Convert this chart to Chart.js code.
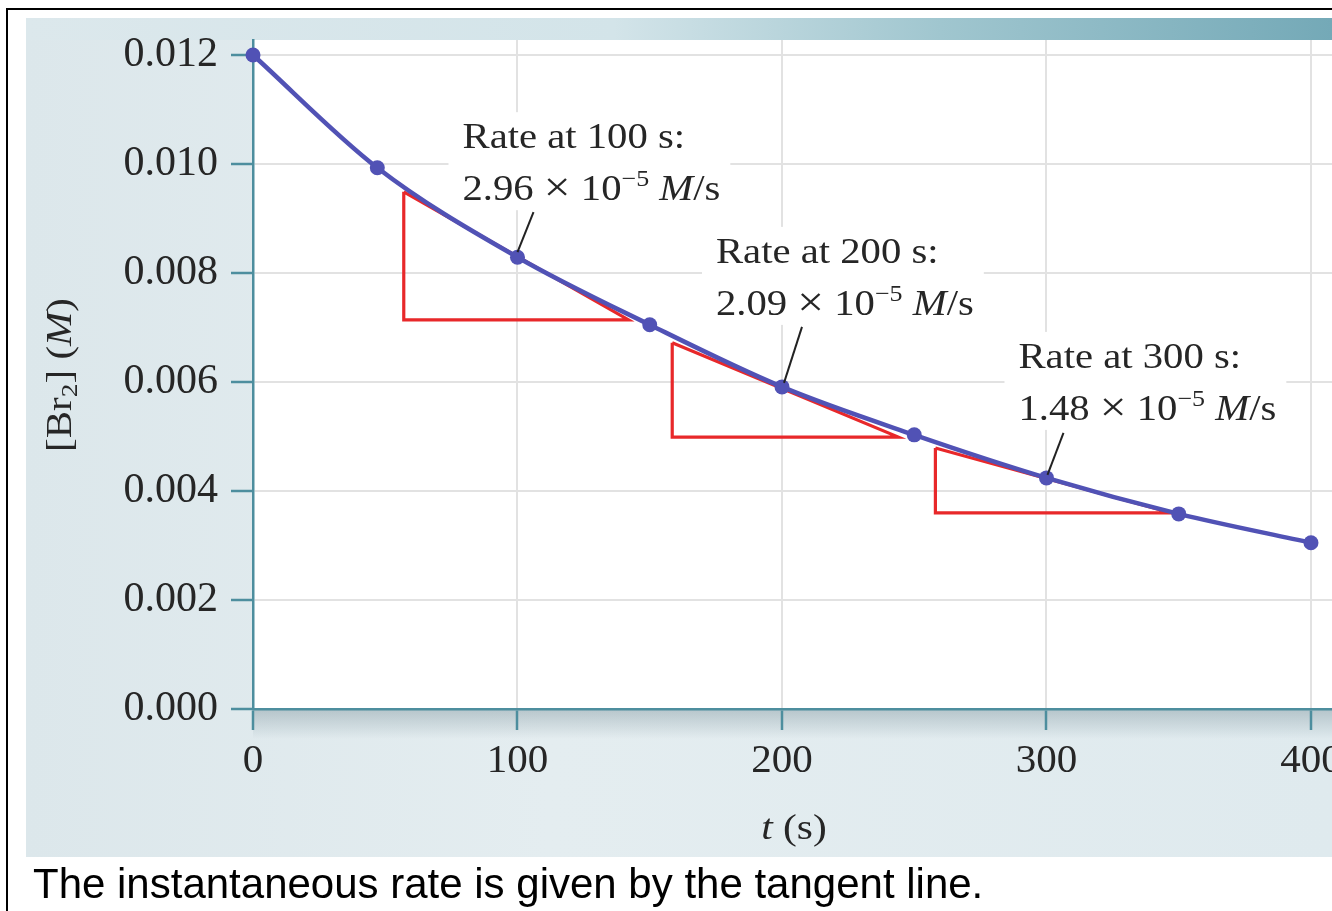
<!DOCTYPE html>
<html><head><meta charset="utf-8">
<script src="https://cdn.jsdelivr.net/npm/chart.js@4.4.1/dist/chart.umd.min.js"></script>
<style>
html,body{margin:0;padding:0;overflow:hidden;background:#fff;width:1332px;height:911px}
#wrap{position:absolute;left:0;top:0;width:1360px;height:911px}
</style>
</head><body>
<div id="wrap"><canvas id="c" width="1360" height="911"></canvas></div>
<script>
// ---- data ----
const times   = [0, 47, 100, 150, 200, 250, 300, 350, 400];
const concBr2 = [0.0120, 0.00993, 0.00829, 0.00705, 0.00591, 0.00503, 0.00424, 0.00358, 0.00305];
const xTickValues = [0, 100, 200, 300, 400];
const yTickValues = [0.000, 0.002, 0.004, 0.006, 0.008, 0.010, 0.012];
// tangent triangles (time, concentration) : top of vertical leg, corner, end of horizontal leg, back to top
const tan100Time = [57, 57, 142, 57];
const tan100Conc = [0.00949, 0.00714, 0.00714, 0.00949];
const tan200Time = [158.5, 158.5, 244, 158.5];
const tan200Conc = [0.00672, 0.00499, 0.00499, 0.00672];
const tan300Time = [258, 258, 347, 258];
const tan300Conc = [0.00479, 0.00360, 0.00360, 0.00479];
const rateTimes  = [100, 200, 300];
const rateValues = ['2.96', '2.09', '1.48'];
const captionText = 'The instantaneous rate is given by the tangent line.';

const SERIF = "'Liberation Serif','Times New Roman',serif";
const TEXT = '#262626';
const TEAL = '#4d8e9e';
const pts = (xs, ys) => xs.map((x, i) => ({x, y: ys[i]}));

function runsWidth(ctx, runs){
  let w = 0;
  for (const r of runs){ ctx.font = r.font; w += ctx.measureText(r.text).width; }
  return w;
}
function drawRuns(ctx, x, y, runs, sx){
  ctx.save(); ctx.translate(x, y); ctx.scale(sx, 1);
  let cx = 0;
  for (const r of runs){ ctx.font = r.font; ctx.fillText(r.text, cx, r.dy || 0); cx += ctx.measureText(r.text).width; }
  ctx.restore();
  return cx * sx;
}

const bgPlugin = {
  id: 'bg',
  beforeDraw(chart){
    const ctx = chart.ctx, a = chart.chartArea;
    ctx.save();
    ctx.fillStyle = '#fff'; ctx.fillRect(0, 0, chart.width, chart.height);
    const pg = ctx.createLinearGradient(26, 0, 1332, 0);
    pg.addColorStop(0, '#dce7eb'); pg.addColorStop(0.4, '#e4edf0'); pg.addColorStop(1, '#dfeaee');
    ctx.fillStyle = pg; ctx.fillRect(26, 18, 1340, 839);
    const sg = ctx.createLinearGradient(26, 0, 1332, 0);
    sg.addColorStop(0, '#dce8ec'); sg.addColorStop(0.45, '#d3e4e9'); sg.addColorStop(0.7, '#a0c6cf'); sg.addColorStop(1, '#74a9b7');
    ctx.fillStyle = sg; ctx.fillRect(26, 18, 1340, a.top - 18);
    ctx.fillStyle = '#fff'; ctx.fillRect(a.left, a.top, a.right - a.left, a.bottom - a.top);
    const sh = ctx.createLinearGradient(0, a.bottom, 0, a.bottom + 30);
    sh.addColorStop(0, 'rgba(100,125,135,0.35)'); sh.addColorStop(1, 'rgba(100,125,135,0)');
    ctx.fillStyle = sh; ctx.fillRect(a.left, a.bottom, a.right - a.left, 30);
    ctx.fillStyle = '#000'; ctx.fillRect(6, 8, 1360, 2); ctx.fillRect(6, 8, 2, 911);
    ctx.restore();
  }
};

const annotOffsets = [
  {tx: -55, ty: -57, sx1: 16, sy1: -45, ex: 0, ey: -5},
  {tx: -66, ty: -72, sx1: 20, sy1: -60, ex: 2, ey: -4},
  {tx: -28, ty: -58, sx1: 17, sy1: -45, ex: 1, ey: -3}
];
const ANN_SX = 1.13;
const AF = '36px ' + SERIF;
function line1Runs(i){ return [{text: 'Rate at ' + rateTimes[i] + ' s:', font: AF}]; }
function line2Runs(i){
  return [
    {text: rateValues[i] + ' ', font: AF},
    {text: '\u00d7', font: '42px ' + SERIF, dy: 1},
    {text: ' 10', font: AF},
    {text: '\u22125', font: '23px ' + SERIF, dy: -14},
    {text: ' ', font: AF},
    {text: 'M', font: 'italic ' + AF},
    {text: '/s', font: AF}
  ];
}
function annotGeom(chart, i){
  const xs = chart.scales.x, ys = chart.scales.y;
  const idx = times.indexOf(rateTimes[i]);
  const px = xs.getPixelForValue(rateTimes[i]), py = ys.getPixelForValue(concBr2[idx]);
  const o = annotOffsets[i];
  return {px, py, o, left: px + o.tx, base2: py + o.ty, base1: py + o.ty - 52};
}
const annotPlugin = {
  id: 'annot',
  beforeDatasetsDraw(chart){
    const ctx = chart.ctx;
    ctx.save();
    for (let i = 0; i < rateTimes.length; i++){
      const g = annotGeom(chart, i);
      const w = Math.max(runsWidth(ctx, line1Runs(i)), runsWidth(ctx, line2Runs(i))) * ANN_SX;
      ctx.fillStyle = '#fff';
      ctx.fillRect(g.left - 14, g.base1 - 36, w + 24, g.base2 - g.base1 + 46);
    }
    ctx.restore();
  },
  afterDatasetsDraw(chart){
    const ctx = chart.ctx;
    ctx.save();
    ctx.fillStyle = TEXT; ctx.textBaseline = 'alphabetic'; ctx.textAlign = 'left';
    for (let i = 0; i < rateTimes.length; i++){
      const g = annotGeom(chart, i);
      drawRuns(ctx, g.left, g.base1, line1Runs(i), ANN_SX);
      drawRuns(ctx, g.left, g.base2, line2Runs(i), ANN_SX);
      ctx.strokeStyle = '#222'; ctx.lineWidth = 2;
      ctx.beginPath();
      ctx.moveTo(g.px + g.o.sx1, g.py + g.o.sy1);
      ctx.lineTo(g.px + g.o.ex, g.py + g.o.ey);
      ctx.stroke();
    }
    ctx.restore();
  },
  afterDraw(chart){
    const ctx = chart.ctx;
    ctx.save();
    ctx.fillStyle = TEXT; ctx.textBaseline = 'alphabetic'; ctx.textAlign = 'left';
    // y title
    const yRuns = [
      {text: '[Br', font: '36px ' + SERIF},
      {text: '2', font: '24px ' + SERIF, dy: 6},
      {text: '] (', font: '36px ' + SERIF},
      {text: 'M', font: 'italic 36px ' + SERIF},
      {text: ')', font: '36px ' + SERIF}
    ];
    const ysx = 1.14;
    const yw = runsWidth(ctx, yRuns) * ysx;
    ctx.save(); ctx.translate(71, 375); ctx.rotate(-Math.PI / 2);
    drawRuns(ctx, -yw / 2, 0, yRuns, ysx);
    ctx.restore();
    // x title
    const xRuns = [
      {text: 't', font: 'italic 36px ' + SERIF},
      {text: ' (s)', font: '36px ' + SERIF}
    ];
    const xsx = 1.15;
    const xw = runsWidth(ctx, xRuns) * xsx;
    drawRuns(ctx, 794 - xw / 2, 839, xRuns, xsx);
    // caption
    ctx.fillStyle = '#000';
    ctx.font = "42px 'Liberation Sans', Arial, sans-serif";
    ctx.fillText(captionText, 33, 898);
    ctx.restore();
  }
};

const triStyle = {borderColor: '#e8282a', borderWidth: 3.2, pointRadius: 0, tension: 0, fill: false, order: 2, clip: false};

new Chart(document.getElementById('c'), {
  type: 'line',
  data: {
    datasets: [
      {data: pts(times, concBr2), borderColor: '#5152b5', backgroundColor: '#5152b5', borderWidth: 4.5,
       pointRadius: 7.5, pointHoverRadius: 7.5, pointBorderWidth: 0, cubicInterpolationMode: 'monotone',
       fill: false, order: 0, clip: false},
      Object.assign({data: pts(tan100Time, tan100Conc)}, triStyle),
      Object.assign({data: pts(tan200Time, tan200Conc)}, triStyle),
      Object.assign({data: pts(tan300Time, tan300Conc)}, triStyle)
    ]
  },
  options: {
    responsive: false,
    animation: false,
    events: [],
    layout: {padding: {top: 40, right: 0, bottom: 0, left: 0}},
    plugins: {legend: {display: false}, tooltip: {enabled: false}},
    scales: {
      x: {
        type: 'linear', min: 0, max: 415.7,
        afterBuildTicks: s => { s.ticks = xTickValues.map(v => ({value: v})); },
        afterFit: s => { s.height = 202; },
        grid: {color: '#e2e2e2', lineWidth: 2, tickLength: 21, tickColor: TEAL, tickWidth: 2.5, drawTicks: true},
        border: {color: TEAL, width: 2.5},
        ticks: {color: TEXT, font: {family: SERIF, size: 41}, padding: 7, maxRotation: 0, callback: v => String(v)}
      },
      y: {
        type: 'linear', min: 0, max: 0.012275,
        afterBuildTicks: s => { s.ticks = yTickValues.map(v => ({value: v})); },
        afterFit: s => { s.width = 253; },
        grid: {color: '#e2e2e2', lineWidth: 2, tickLength: 22, tickColor: TEAL, tickWidth: 2.5, drawTicks: true},
        border: {color: TEAL, width: 2.5},
        ticks: {color: TEXT, font: {family: SERIF, size: 42}, padding: 13, callback: v => v.toFixed(3)}
      }
    }
  },
  plugins: [bgPlugin, annotPlugin]
});
</script>
</body></html>
